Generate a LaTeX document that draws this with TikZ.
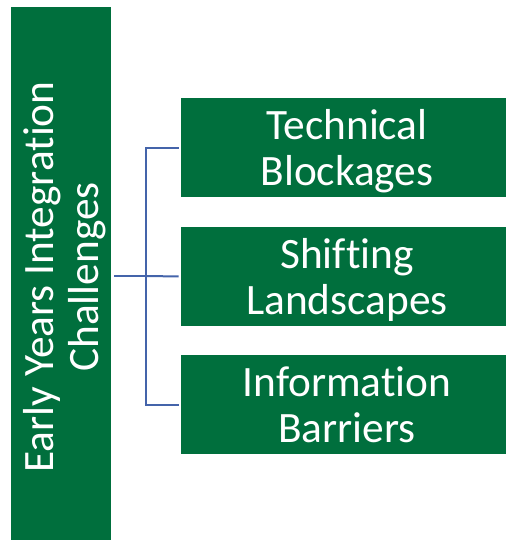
\documentclass[tikz,border=0pt]{standalone}
\usepackage{fontspec}
\setmainfont[Ligatures=NoCommon]{Carlito}
\usetikzlibrary{positioning, calc}

\definecolor{boxgreen}{RGB}{0,111,61}
\definecolor{linkblue}{RGB}{68,100,170}

\begin{document}
\begin{tikzpicture}[x=0.75pt, y=-0.75pt,
    greenbox/.style={fill=boxgreen, text=white, align=center, inner sep=0pt,
      text depth=0pt, font=\fontsize{32.5}{34}\selectfont},
    link/.style={draw=linkblue, line width=1.5pt}]
% Canvas
\useasboundingbox (0,0) rectangle (506,540);

% Vertical title box
\node[greenbox, rotate=90, minimum width=405pt, minimum height=75pt]
  (title) at (61,277) {Early Years Integration\\Challenges};

% Three challenge boxes
\node[greenbox, minimum width=249pt, minimum height=74.25pt]
  (techbox) at (347,147.5) {Technical\\Blockages};
\node[greenbox, minimum width=249pt, minimum height=74.25pt]
  (shiftbox) at (347,276.5) {Shifting\\Landscapes};
\node[greenbox, minimum width=249pt, minimum height=74.25pt]
  (infobox) at (347,404.5) {Information\\Barriers};

% Bracket joining them
\coordinate (fork) at (146,276);
\draw[link, shorten <=2.25pt] (title.south |- fork) -- (fork);
\draw[link, shorten <=1.5pt, shorten >=1.5pt] (techbox.west) -| (fork) |- (infobox.west);
\draw[link, shorten >=1.5pt] (fork) -- (shiftbox.west);
\end{tikzpicture}
\end{document}
